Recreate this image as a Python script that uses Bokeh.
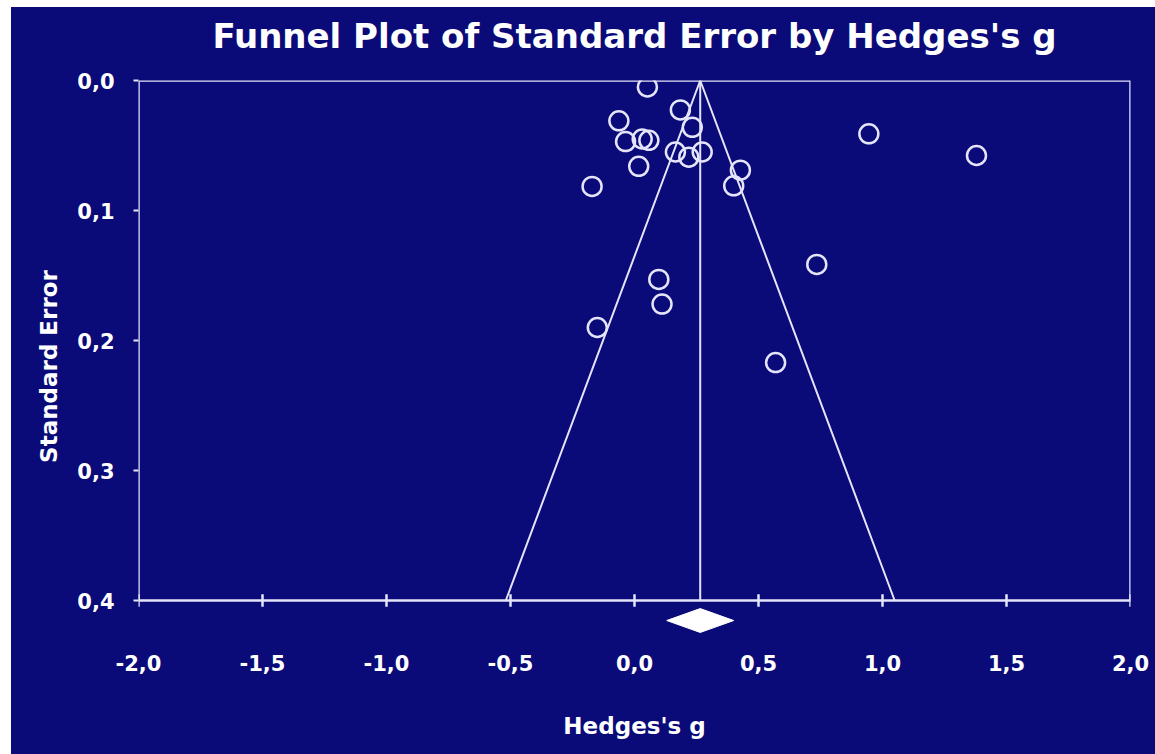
from bokeh.plotting import figure
from bokeh.models import Range1d, FixedTicker, CustomJSTickFormatter, LinearAxis
from bokeh.embed import file_html
from bokeh.resources import INLINE

# ---- data ----
hedges_g = [0.052, -0.063, -0.036, 0.031, 0.058, 0.017, -0.171, 0.185, 0.233,
            0.165, 0.219, 0.273, 0.427, 0.400, 0.945, 1.379, 0.098, 0.111,
            -0.150, 0.569, 0.735]
std_err = [0.005, 0.031, 0.047, 0.045, 0.046, 0.066, 0.0815, 0.0226, 0.036,
           0.055, 0.059, 0.055, 0.069, 0.081, 0.041, 0.0577, 0.153, 0.172,
           0.190, 0.217, 0.1415]
pooled_g = 0.265
pooled_ci = [0.13, 0.40]
x_ticks = [-2.0, -1.5, -1.0, -0.5, 0.0, 0.5, 1.0, 1.5, 2.0]
y_ticks = [0.0, 0.1, 0.2, 0.3, 0.4]

TITLE = "Funnel Plot of Standard Error by Hedges's g"
X_LABEL = "Hedges's g"
Y_LABEL = "Standard Error"

BG = "#0a0a78"
FG = "#e4e4fa"
FONT = "DejaVu Sans"

se_max = y_ticks[-1]

p = figure(width=1144, height=747, output_backend="svg", toolbar_location=None,
           x_range=Range1d(x_ticks[0], x_ticks[-1]),
           y_range=Range1d(0.44, 0.0),
           min_border_left=127, min_border_right=25,
           min_border_top=73, min_border_bottom=102,
           background_fill_color=BG, border_fill_color=None,
           outline_line_color=None)
p.margin = (7, 0, 0, 11)
p.styles = {"background-color": BG}
p.xgrid.visible = False
p.ygrid.visible = False

# title, drawn as the label of an empty top axis so that it sits where the
# reference puts it
top = LinearAxis(ticker=FixedTicker(ticks=[]), axis_line_color=None,
                 major_tick_line_color=None, minor_tick_line_color=None,
                 major_tick_out=0, major_tick_in=0,
                 axis_label=TITLE, axis_label_standoff=25,
                 axis_label_text_font=FONT, axis_label_text_font_style="bold",
                 axis_label_text_font_size="34px", axis_label_text_color="white")
p.add_layout(top, "above")

fmt = CustomJSTickFormatter(code="return tick.toFixed(1).replace('.', ',');")

# y axis
p.yaxis.ticker = FixedTicker(ticks=y_ticks)
p.yaxis.formatter = fmt
p.yaxis.axis_line_color = None
p.yaxis.major_tick_out = 5
p.yaxis.major_tick_in = 0
p.yaxis.major_tick_line_color = FG
p.yaxis.major_tick_line_width = 2
p.yaxis.minor_tick_line_color = None
p.yaxis.major_label_standoff = 19
p.yaxis.major_label_text_font = FONT
p.yaxis.major_label_text_font_style = "bold"
p.yaxis.major_label_text_font_size = "21px"
p.yaxis.major_label_text_color = "white"
p.yaxis.axis_label = Y_LABEL
p.yaxis.axis_label_standoff = 12
p.yaxis.axis_label_text_font = FONT
p.yaxis.axis_label_text_font_style = "bold"
p.yaxis.axis_label_text_font_size = "23px"
p.yaxis.axis_label_text_color = "white"

# x axis
xa = p.below[0]
xa.ticker = FixedTicker(ticks=x_ticks)
xa.formatter = fmt
xa.axis_line_color = None
xa.major_tick_line_color = None
xa.minor_tick_line_color = None
xa.major_tick_out = 0
xa.major_tick_in = 0
xa.major_label_standoff = 2
xa.major_label_text_font = FONT
xa.major_label_text_font_style = "bold"
xa.major_label_text_font_size = "21px"
xa.major_label_text_color = "white"
xa.axis_label = X_LABEL
xa.axis_label_standoff = 39
xa.axis_label_text_font = FONT
xa.axis_label_text_font_style = "bold"
xa.axis_label_text_font_size = "23px"
xa.axis_label_text_color = "white"

# plot box
p.quad(left=x_ticks[0], right=x_ticks[-1], top=y_ticks[0], bottom=se_max,
       fill_color=None, line_color=FG, line_width=2.5)

# ticks on the box's bottom edge
p.segment(x0=x_ticks, y0=[se_max - 0.0048] * len(x_ticks),
          x1=x_ticks, y1=[se_max + 0.0048] * len(x_ticks),
          line_color=FG, line_width=2.5)

# funnel (pooled estimate +/- 1.96 SE)
p.line(x=[pooled_g - 1.96 * se_max, pooled_g, pooled_g + 1.96 * se_max],
       y=[se_max, 0.0, se_max], line_color=FG, line_width=2)
p.line(x=[pooled_g, pooled_g], y=[0.0, se_max], line_color=FG, line_width=2)

# studies
p.scatter(x=hedges_g, y=std_err, marker="circle", size=19,
          fill_color=None, line_color=FG, line_width=2.5)

# pooled diamond
yd = se_max + 0.0154
hd = 0.0092
p.patch(x=[pooled_ci[0], pooled_g, pooled_ci[1], pooled_g],
        y=[yd, yd - hd, yd, yd + hd], fill_color="white", line_color="white",
        line_width=1)

open("out.html", "w").write(file_html(p, INLINE))
